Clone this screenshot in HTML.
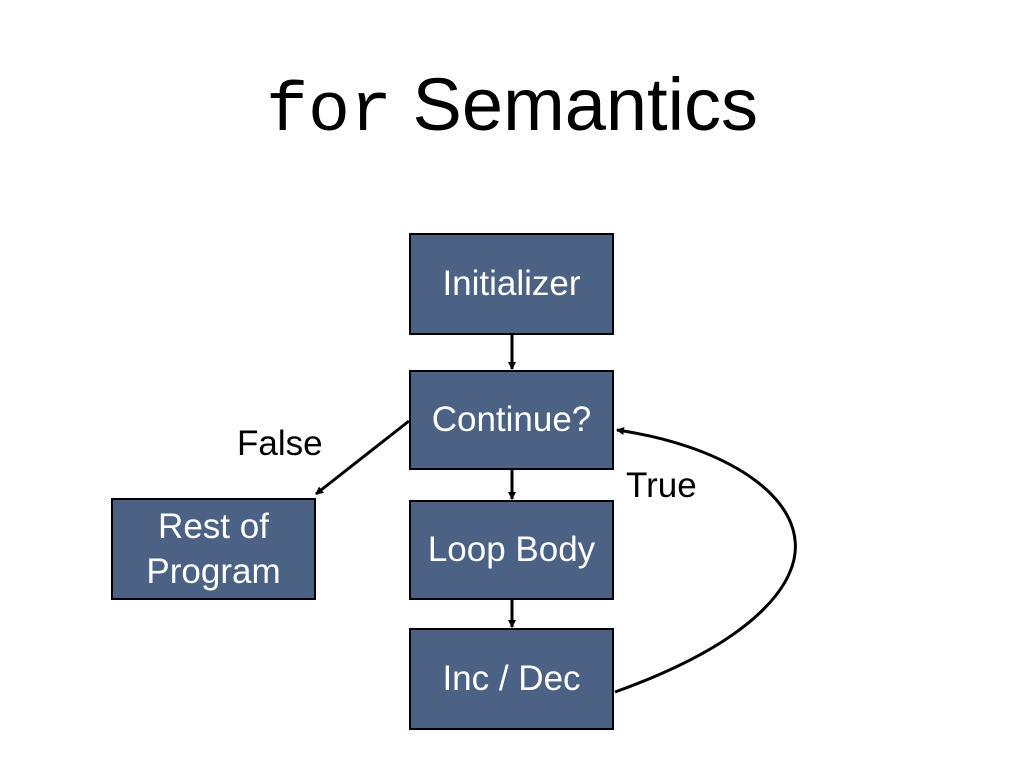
<!DOCTYPE html>
<html><head><style>
body{margin:0;width:1024px;height:768px;background:#fff;position:relative;overflow:hidden;font-family:"Liberation Sans",sans-serif}
.t{position:absolute;top:62px;left:0;width:1024px;text-align:center;font-size:74px;white-space:nowrap}
.m{font-family:"Liberation Mono",monospace;font-size:70px}
.b{position:absolute;box-sizing:border-box;border:2px solid #000;background:#4b6284;color:#fff;display:flex;align-items:center;justify-content:center;text-align:center;font-size:35px;line-height:1.3}
.l{position:absolute;font-size:35px}
</style></head><body>
<div class="t"><span class="m">for</span> Semantics</div>
<div class="b" style="left:409px;top:233px;width:205px;height:102px">Initializer</div>
<div class="b" style="left:409px;top:370px;width:205px;height:100px">Continue?</div>
<div class="b" style="left:409px;top:500px;width:205px;height:100px">Loop Body</div>
<div class="b" style="left:409px;top:628px;width:205px;height:102px">Inc / Dec</div>
<div class="b" style="left:111px;top:498px;width:205px;height:102px">Rest of<br>Program</div>
<div class="l" style="left:237px;top:424px">False</div>
<div class="l" style="left:626px;top:466px">True</div>
<svg width="1024" height="768" style="position:absolute;left:0;top:0">
<defs><marker id="a" markerWidth="8" markerHeight="8" refX="7" refY="4" orient="auto" markerUnits="userSpaceOnUse"><path d="M0,0L8,4L0,8z"/></marker></defs>
<g stroke="#000" stroke-width="3" fill="none">
<line x1="512" y1="335" x2="512" y2="369" marker-end="url(#a)"/>
<line x1="512" y1="470" x2="512" y2="499" marker-end="url(#a)"/>
<line x1="512" y1="600" x2="512" y2="627" marker-end="url(#a)"/>
<line x1="409" y1="421" x2="316" y2="494" marker-end="url(#a)"/>
<path d="M615,692 C760,640 800,580 795,540 C790,490 720,445 617,430" marker-end="url(#a)"/>
</g></svg>
</body></html>
